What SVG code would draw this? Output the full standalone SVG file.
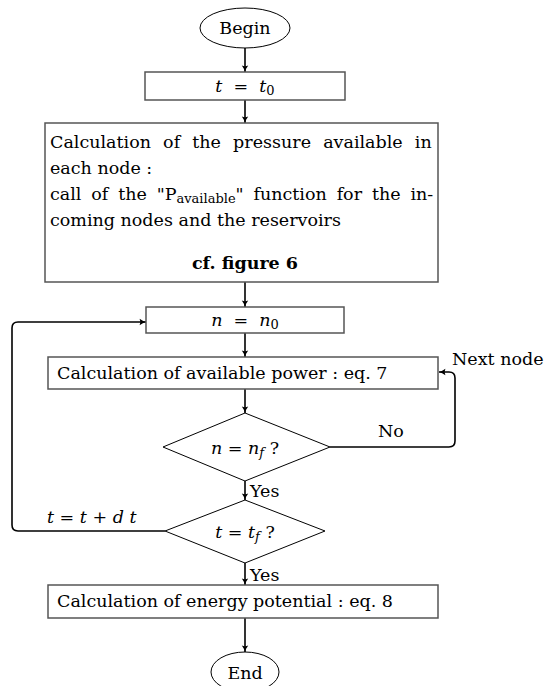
<svg xmlns="http://www.w3.org/2000/svg" width="548" height="686" viewBox="0 0 548 686">
<defs>
<marker id="arr" viewBox="0 0 10 10" refX="9" refY="5" markerWidth="8" markerHeight="8" markerUnits="userSpaceOnUse" orient="auto">
<path d="M1,1 Q5,4 9,5 Q5,6 1,9 Q3,5 1,1 Z" fill="#000"/>
</marker>
<style>
text{font-family:"DejaVu Serif","Liberation Serif",serif;font-size:17.5px;fill:#000}
.it{font-style:italic}
.box{fill:#fff;stroke:#555;stroke-width:1.5}
.sh{fill:#fff;stroke:#000;stroke-width:1}
.c{fill:none;stroke:#000;stroke-width:1.6;marker-end:url(#arr)}
</style>
</defs>
<rect width="548" height="686" fill="#fff"/>
<g id="connectors">
<line class="c" x1="245" y1="48" x2="245" y2="72"/>
<line class="c" x1="245" y1="100" x2="245" y2="123"/>
<line class="c" x1="245" y1="282" x2="245" y2="307"/>
<line class="c" x1="245" y1="333" x2="245" y2="357"/>
<line class="c" x1="245" y1="389" x2="245" y2="413"/>
<line class="c" x1="245" y1="481" x2="245" y2="500"/>
<line class="c" x1="245" y1="563" x2="245" y2="585"/>
<line class="c" x1="245" y1="618" x2="245" y2="652"/>
<path class="c" d="M330,447 H449 Q455,447 455,441 V378 Q455,372 449,372 H439"/>
<path class="c" d="M165,531 H18 Q12,531 12,525 V328 Q12,322 18,322 H146"/>
</g>
<g id="begin">
<ellipse class="sh" cx="245" cy="28" rx="45" ry="20"/>
<text x="245" y="34" text-anchor="middle">Begin</text>
</g>
<g id="t0">
<rect class="box" x="145" y="72" width="200" height="28"/>
<text x="245" y="92" text-anchor="middle" class="it" xml:space="preserve">t  =  t<tspan font-style="normal" font-size="13" dy="3">0</tspan></text>
</g>
<g id="pressure">
<rect class="box" x="45" y="123" width="393" height="159"/>
<text x="50" y="148" word-spacing="6.6">Calculation of the pressure available in</text>
<text x="50" y="174">each node :</text>
<text x="50" y="200" word-spacing="4.3">call of the "P<tspan font-size="13" dy="3">available</tspan><tspan dy="-3">" function for the in-</tspan></text>
<text x="50" y="226">coming nodes and the reservoirs</text>
<text x="245" y="269" text-anchor="middle" font-weight="bold">cf. figure 6</text>
</g>
<g id="n0">
<rect class="box" x="146" y="307" width="198" height="26"/>
<text x="245" y="326" text-anchor="middle" class="it" xml:space="preserve">n  =  n<tspan font-style="normal" font-size="13" dy="3">0</tspan></text>
</g>
<g id="power">
<rect class="box" x="48" y="357" width="390" height="32"/>
<text x="57" y="379">Calculation of available power : eq. 7</text>
</g>
<g id="nf">
<polygon class="sh" points="245,413 330,447 245,481 163,447"/>
<text x="245" y="454" text-anchor="middle" class="it">n = n<tspan font-size="13" dy="3">f</tspan><tspan font-style="normal" dy="-3"> ?</tspan></text>
</g>
<g id="tf">
<polygon class="sh" points="245,500 325,531 245,563 165,531"/>
<text x="245" y="538" text-anchor="middle" class="it">t = t<tspan font-size="13" dy="3">f</tspan><tspan font-style="normal" dy="-3"> ?</tspan></text>
</g>
<g id="energy">
<rect class="box" x="48" y="585" width="390" height="33"/>
<text x="57" y="607">Calculation of energy potential : eq. 8</text>
</g>
<g id="end">
<ellipse class="sh" cx="245" cy="672" rx="34" ry="20"/>
<text x="245" y="679" text-anchor="middle">End</text>
</g>
<g id="labels">
<text x="452" y="365">Next node</text>
<text x="378" y="437">No</text>
<text x="250" y="497">Yes</text>
<text x="250" y="581">Yes</text>
<text x="47" y="523" class="it">t = t + d t</text>
</g>
</svg>
